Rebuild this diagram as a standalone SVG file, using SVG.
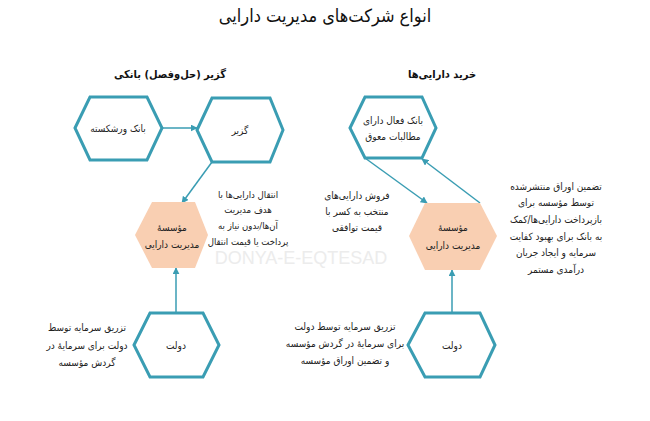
<svg xmlns="http://www.w3.org/2000/svg" width="650" height="421" viewBox="0 0 650 421">
<defs>
<style>
.hex{fill:#fff;stroke:#3a9db3;stroke-width:3}
.org{fill:#f9cfb2;stroke:none}
.t{font-family:"DejaVu Sans Condensed","DejaVu Sans",sans-serif;font-stretch:condensed;font-size:10px;fill:#222;text-anchor:middle;direction:rtl}
.n{font-size:9.5px}
.h{font-family:"DejaVu Sans Condensed","DejaVu Sans",sans-serif;font-stretch:condensed;font-size:11px;font-weight:bold;fill:#111;text-anchor:middle;direction:rtl}
.title{font-family:"DejaVu Sans Condensed","DejaVu Sans",sans-serif;font-stretch:condensed;font-size:18px;fill:#111;text-anchor:middle;direction:rtl}
.c{stroke:#3a9db3;stroke-width:1.5;fill:none;marker-end:url(#ah)}
.wm{font-family:"Liberation Sans",sans-serif;font-size:18px;fill:#ececec;text-anchor:middle}
</style>
<marker id="ah" viewBox="0 0 10 10" refX="9" refY="5" markerWidth="7" markerHeight="7" orient="auto" markerUnits="userSpaceOnUse">
<path d="M0,0 L10,5 L0,10 Z" fill="#3a9db3"/>
</marker>
</defs>
<rect width="650" height="421" fill="#fff"/>
<text class="wm" x="301" y="264">DONYA-E-EQTESAD</text>
<text class="title" x="325" y="22">انواع شرکت‌های مدیریت دارایی</text>
<text class="h" x="170" y="78">گزیر (حل‌وفصل) بانکی</text>
<text class="h" x="442" y="78">خرید دارایی‌ها</text>

<g id="connectors">
<line class="c" x1="162" y1="128" x2="197" y2="128"/>
<line class="c" x1="212" y1="162" x2="182" y2="203"/>
<line class="c" x1="176" y1="313" x2="176" y2="268"/>
<line class="c" x1="365" y1="158" x2="427" y2="203"/>
<line class="c" x1="480" y1="203" x2="422" y2="159"/>
<line class="c" x1="452" y1="313" x2="452" y2="270"/>
</g>

<g id="bankrupt">
<polygon class="hex" points="75,128 90,97 147,97 162,128 147,160 90,160"/>
<text class="t" x="118" y="132">بانک ورشکسته</text>
</g>
<g id="resolution">
<polygon class="hex" points="197,130 212,98 270,98 283,130 270,162 212,162"/>
<text class="t" x="240" y="134">گزیر</text>
</g>
<g id="activebank">
<polygon class="hex" points="350,128 365,97 422,97 436,128 422,158 365,158"/>
<text class="t" x="393" y="124">بانک فعال دارای</text>
<text class="t" x="393" y="140">مطالبات معوق</text>
</g>
<g id="amc-left">
<polygon class="org" points="135,235 152,202 195,202 208,235 195,268 152,268"/>
<text class="t" x="172" y="231">مؤسسهٔ</text>
<text class="t" x="172" y="248">مدیریت دارایی</text>
</g>
<g id="amc-right">
<polygon class="org" points="409,236 425,203 480,203 497,236 480,270 425,270"/>
<text class="t" x="453" y="231">مؤسسهٔ</text>
<text class="t" x="453" y="249">مدیریت دارایی</text>
</g>
<g id="gov-left">
<polygon class="hex" points="134,345 150,313 203,313 219,345 203,377 150,377"/>
<text class="t" x="176" y="349">دولت</text>
</g>
<g id="gov-right">
<polygon class="hex" points="408,345 425,313 480,313 495,345 480,377 425,377"/>
<text class="t" x="452" y="349">دولت</text>
</g>

<g id="notes">
<text class="t n" x="248" y="198">انتقال دارایی‌ها با</text>
<text class="t n" x="248" y="213">هدف مدیریت</text>
<text class="t n" x="248" y="229">آن‌ها/بدون نیاز به</text>
<text class="t n" x="248" y="245">پرداخت یا قیمت انتقال</text>

<text class="t" x="357" y="199">فروش دارایی‌های</text>
<text class="t" x="357" y="215">منتخب به کسر با</text>
<text class="t" x="357" y="231">قیمت توافقی</text>

<text class="t" x="556" y="190">تضمین اوراق منتشرشده</text>
<text class="t" x="556" y="206">توسط مؤسسه برای</text>
<text class="t" x="556" y="223">بازپرداخت دارایی‌ها/کمک</text>
<text class="t" x="556" y="240">به بانک برای بهبود کفایت</text>
<text class="t" x="556" y="256">سرمایه و ایجاد جریان</text>
<text class="t" x="556" y="273">درآمدی مستمر</text>

<text class="t" x="87" y="331">تزریق سرمایه توسط</text>
<text class="t" x="87" y="349">دولت برای سرمایهٔ در</text>
<text class="t" x="87" y="366">گردش مؤسسه</text>

<text class="t" x="345" y="330">تزریق سرمایه توسط دولت</text>
<text class="t" x="345" y="347">برای سرمایهٔ در گردش مؤسسه</text>
<text class="t" x="345" y="364">و تضمین اوراق مؤسسه</text>
</g>
</svg>
